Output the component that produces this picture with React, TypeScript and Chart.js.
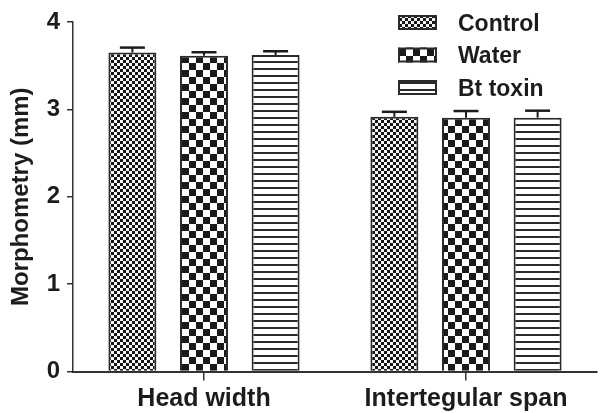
import React, { useEffect, useRef } from "react";
import { Chart, registerables } from "chart.js";

Chart.register(...registerables);

const categories = ["Head width", "Intertegular span"];
const seriesNames = ["Control", "Water", "Bt toxin"];
const controlValues = [3.65, 2.915];
const controlErrors = [0.057, 0.057];
const waterValues = [3.614, 2.905];
const waterErrors = [0.04, 0.076];
const btValues = [3.622, 2.905];
const btErrors = [0.043, 0.08];
const yTicks = [0, 1, 2, 3, 4];

const INK = "#1c1c1c";
const EDGE = "#2a2a2a";

function makeTile(w: number, h: number, draw: (c: CanvasRenderingContext2D) => void): CanvasPattern {
  const cv = document.createElement("canvas");
  cv.width = w;
  cv.height = h;
  const c = cv.getContext("2d") as CanvasRenderingContext2D;
  draw(c);
  const ref = document.createElement("canvas").getContext("2d") as CanvasRenderingContext2D;
  return ref.createPattern(cv, "repeat") as CanvasPattern;
}

function fineChecker() {
  return makeTile(6, 6, (c) => {
    c.fillStyle = "#161616";
    c.fillRect(0, 0, 6, 6);
    c.fillStyle = "#f4f4f4";
    c.fillRect(0, 0, 3, 3);
    c.fillRect(3, 3, 3, 3);
  });
}
function coarseChecker() {
  return makeTile(14, 14, (c) => {
    c.fillStyle = "#ffffff";
    c.fillRect(0, 0, 14, 14);
    c.fillStyle = "#1a1a1a";
    c.fillRect(0, 0, 7, 7);
    c.fillRect(7, 7, 7, 7);
  });
}
function hLines() {
  return makeTile(8, 7, (c) => {
    c.fillStyle = "#ffffff";
    c.fillRect(0, 0, 8, 7);
    c.fillStyle = "#2a2a2a";
    c.fillRect(0, 5, 8, 2);
  });
}

export default function App() {
  const ref = useRef<HTMLCanvasElement | null>(null);

  useEffect(() => {
    if (!ref.current) return;
    const patterns = [fineChecker(), coarseChecker(), hLines()];
    const valuesList = [controlValues, waterValues, btValues];
    const errorsList = [controlErrors, waterErrors, btErrors];

    const errorBars = {
      id: "errorBars",
      afterDatasetsDraw(chart: any) {
        const ctx = chart.ctx;
        const yScale = chart.scales.y;
        ctx.save();
        ctx.strokeStyle = INK;
        chart.data.datasets.forEach((ds: any, di: number) => {
          const meta = chart.getDatasetMeta(di);
          meta.data.forEach((bar: any, i: number) => {
            const v = valuesList[di][i];
            const e = errorsList[di][i];
            const yTop = yScale.getPixelForValue(v + e);
            const yMean = yScale.getPixelForValue(v);
            const x = bar.x;
            ctx.lineWidth = 2;
            ctx.beginPath();
            ctx.moveTo(x, yMean);
            ctx.lineTo(x, yTop);
            ctx.stroke();
            ctx.lineWidth = 2.5;
            ctx.beginPath();
            ctx.moveTo(x - 12.5, yTop);
            ctx.lineTo(x + 12.5, yTop);
            ctx.stroke();
          });
        });
        ctx.restore();
      },
    };

    const legend = {
      id: "customLegend",
      afterDraw(chart: any) {
        const ctx = chart.ctx;
        ctx.save();
        const centers = [22.5, 55, 87.5];
        seriesNames.forEach((name, i) => {
          const cy = centers[i];
          ctx.fillStyle = patterns[i];
          ctx.fillRect(398, cy - 7.5, 39, 15);
          ctx.strokeStyle = EDGE;
          ctx.lineWidth = 2;
          ctx.strokeRect(399, cy - 6.5, 37, 13);
          ctx.fillStyle = INK;
          ctx.font = "bold 23px 'Liberation Sans', Arial, sans-serif";
          ctx.textAlign = "left";
          ctx.textBaseline = "alphabetic";
          ctx.fillText(name, 458, cy + 8);
        });
        ctx.restore();
      },
    };

    const chart = new Chart(ref.current, {
      type: "bar",
      data: {
        labels: categories,
        datasets: seriesNames.map((name, i) => ({
          label: name,
          data: valuesList[i],
          backgroundColor: patterns[i] as any,
          borderColor: EDGE,
          borderWidth: 2,
          borderSkipped: "bottom" as any,
          categoryPercentage: 0.82,
          barPercentage: 0.67,
        })),
      },
      options: {
        animation: false,
        responsive: false,
        devicePixelRatio: 1,
        layout: { padding: { left: 0, right: 4, top: 22, bottom: 0 } },
        plugins: {
          legend: { display: false },
          tooltip: { enabled: false },
        },
        scales: {
          x: {
            offset: true,
            grid: {
              offset: false,
              drawOnChartArea: false,
              drawTicks: true,
              tickLength: 9,
              color: "#333",
              lineWidth: 1.5,
            },
            border: { display: true, color: "#333", width: 2 },
            ticks: {
              color: INK,
              padding: 4,
              font: { family: "'Liberation Sans', Arial, sans-serif", size: 25, weight: "bold" },
            },
            afterFit: (scale: any) => {
              scale.height = 41.5;
            },
          },
          y: {
            min: 0,
            max: 4,
            afterBuildTicks: (scale: any) => {
              scale.ticks = yTicks.map((v) => ({ value: v }));
            },
            grid: {
              drawOnChartArea: false,
              drawTicks: true,
              tickLength: 6,
              color: "#333",
              lineWidth: 1.5,
            },
            border: { display: true, color: "#333", width: 1.5 },
            ticks: {
              color: INK,
              padding: 7,
              font: { family: "'Liberation Sans', Arial, sans-serif", size: 24, weight: "bold" },
            },
            title: {
              display: true,
              text: "Morphometry (mm)",
              color: INK,
              padding: { top: 7, bottom: 0 },
              font: { family: "'Liberation Sans', Arial, sans-serif", size: 24, weight: "bold" },
            },
            afterFit: (scale: any) => {
              scale.width = 73;
            },
          },
        },
      },
      plugins: [errorBars, legend],
    });
    return () => chart.destroy();
  }, []);

  return (
    <div style={{ position: "absolute", left: 0, top: 0, width: 601, height: 413, background: "#fff" }}>
      <canvas ref={ref} width={601} height={413} style={{ display: "block" }} />
    </div>
  );
}
